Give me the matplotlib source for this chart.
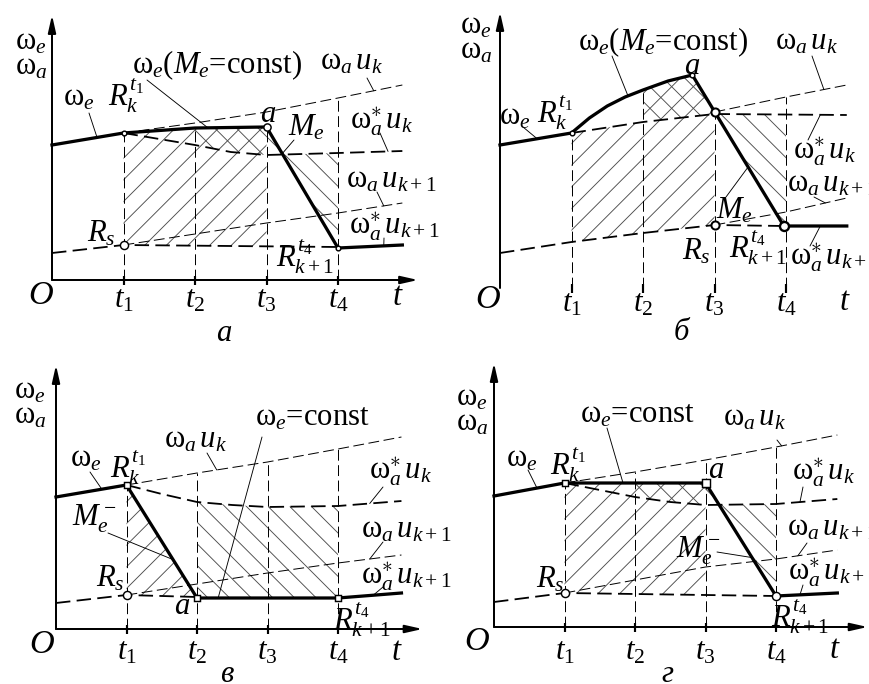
import numpy as np
import matplotlib
matplotlib.use('Agg')
import matplotlib.pyplot as plt

W, H, DPI = 869, 684, 130

# t is in time steps (t1..t4 = 1..4), h in pixels above the t axis
t_ticks = [1, 2, 3, 4]

# panel а
a_we_t, a_we_h = [0, 1, 2, 3, 4, 4.9], [135, 147, 152, 153, 32, 35]
a_wak_t, a_wak_h = [1, 2, 3, 4, 4.9], [147, 157, 168, 182, 195]
a_wsk_t, a_wsk_h = [1, 1.5, 2, 2.5, 3, 4, 4.9], [147, 141, 135, 128, 125, 127, 129]
a_wak1_t, a_wak1_h = [1, 3, 4, 4.9], [35, 57, 67, 77]
a_wsk1_t, a_wsk1_h = [0, 1, 4], [27, 35, 33]
a_vtop = [147, 152, 153, 183]

# panel б
b_we_t = [0, 1, 1.25, 1.5, 1.75, 2, 2.35, 2.69, 3.97, 4.85]
b_we_h = [143, 155, 170, 182, 191, 198, 207, 213, 62, 62]
b_wak_t, b_wak_h = [3, 4, 4.85], [176, 191, 203]
b_wsk_t, b_wsk_h = [1, 2, 3, 4.85], [155, 166, 174, 173]
b_wak1_t, b_wak1_h = [3, 4, 4.85], [63, 76, 90]
b_wsk1_t, b_wsk1_h = [0, 1, 2, 3, 3.97], [35, 46, 55, 63, 62]
b_vtop = [155, 198, 176, 191]

# panel в
c_we_t, c_we_h = [0, 1, 2, 4, 4.9], [132, 144, 31, 31, 36]
c_wak_t, c_wak_h = [1, 2, 3, 4, 4.9], [144, 156, 167, 180, 192]
c_wsk_t, c_wsk_h = [1, 1.5, 2, 2.5, 3, 4, 4.9], [144, 135, 127, 124, 122, 123, 128]
c_wak1_t, c_wak1_h = [1, 3, 4, 4.9], [34, 56, 66, 74]
c_wsk1_t, c_wsk1_h = [0, 1, 2], [26, 34, 32]
c_vtop = [144, 156, 167, 180]

# panel г
d_we_t, d_we_h = [0, 1, 3, 4, 4.87], [131, 144, 144, 31, 34]
d_wak_t, d_wak_h = [1, 2, 3, 4, 4.87], [144, 155, 167, 180, 192]
d_wsk_t, d_wsk_h = [1, 1.5, 2, 2.5, 3, 4, 4.87], [144, 137, 130, 125, 122, 123, 128]
d_wak1_t, d_wak1_h = [1, 3, 4, 4.87], [34, 60, 68, 77]
d_wsk1_t, d_wsk1_h = [0, 1, 4], [25, 34, 31]
d_vtop = [144, 155, 167, 180]

plt.rcParams['font.family'] = 'Liberation Serif'
plt.rcParams['mathtext.fontset'] = 'custom'
plt.rcParams['mathtext.rm'] = 'Liberation Serif'
plt.rcParams['mathtext.it'] = 'Liberation Serif:italic'
plt.rcParams['mathtext.bf'] = 'Liberation Serif:bold'
plt.rcParams['lines.scale_dashes'] = False
plt.rcParams['hatch.linewidth'] = 0.5

FS = 17
fig = plt.figure(figsize=(W / DPI, H / DPI), dpi=DPI)


def make_axes(box, origin, step, top, xend):
    L, T, R, B = box
    ox, oy = origin
    ax = fig.add_axes([L / W, 1 - B / H, (R - L) / W, (B - T) / H])
    ax.set_xlim((L - ox) / step, (R - ox) / step)
    ax.set_ylim(oy - B, oy - T)
    ax.axis('off')
    arrow = dict(arrowstyle='-|>,head_length=0.8,head_width=0.18', lw=1.1,
                 color='k', shrinkA=0, shrinkB=0)
    ax.annotate('', xy=(0, top), xytext=(0, 0), arrowprops=arrow)
    ax.annotate('', xy=(xend, 0), xytext=(0, 0), arrowprops=arrow)
    ax.vlines(t_ticks, -5, 4, color='k', lw=1.2)
    return ax


def solid(ax, t, h):
    ax.plot(t, h, color='k', lw=1.8, zorder=4, solid_joinstyle='miter')


def dthin(ax, t, h):
    ax.plot(t, h, color='k', lw=0.55, dashes=(6, 2.5), zorder=3)


def dthick(ax, t, h):
    ax.plot(t, h, color='k', lw=1.0, dashes=(8, 3.5), zorder=3)


def hatch(ax, t0, t1, lo, hi, pattern):
    tt = np.linspace(t0, t1, 200)
    ax.fill_between(tt, np.interp(tt, *lo), np.interp(tt, *hi), facecolor='none',
                    edgecolor='0.3', lw=0, hatch=pattern, zorder=1)


def verticals(ax, tops):
    ax.vlines(t_ticks, 0, tops, color='k', lw=0.55, linestyles=(0, (6, 2.5)), zorder=2)


def point(ax, t, h, marker='o', ms=3.0, mew=0.8):
    ax.plot([t], [h], marker=marker, ms=ms, mfc='white', mec='k', mew=mew,
            ls='none', zorder=6)


def leader(ax, t, crv, px, py):
    h = np.interp(t, *crv)
    ax.annotate('', xy=(t, h), xytext=(px, H - py), textcoords='figure pixels',
                arrowprops=dict(arrowstyle='-', lw=0.5, color='k', shrinkA=0, shrinkB=0))


def label(px, py, s, size=FS, **kw):
    fig.text(px / W, 1 - py / H, s, fontsize=size, ha='center', va='center', **kw)


def axis_labels(ox, ty, step, ylab_x, ylab_y, o_xy, t_xy):
    label(ylab_x, ylab_y, 'ω$_e$')
    label(ylab_x, ylab_y + 25, 'ω$_a$')
    label(*o_xy, '$O$', size=FS + 2)
    for i, t in enumerate(t_ticks):
        label(ox + t * step, ty, '$t_%d$' % (i + 1))
    label(*t_xy, '$t$', size=FS + 1)


S_WAK = 'ω$_a\\,u_k$'
S_WSK = 'ω$^{\\ast}_a\\,u_k$'
S_WAK1 = 'ω$_a\\,u_{k+1}$'
S_WSK1 = 'ω$^{\\ast}_a\\,u_{k+1}$'

# ---------------- panel а ----------------
ax = make_axes((0, 0, 436, 335), (52, 280), 71.5, 265, 5.12)
we, wak, wsk = (a_we_t, a_we_h), (a_wak_t, a_wak_h), (a_wsk_t, a_wsk_h)
wak1, wsk1 = (a_wak1_t, a_wak1_h), (a_wsk1_t, a_wsk1_h)
hatch(ax, 1, 3, wsk1, we, '//')
hatch(ax, 2, 4, wsk, we, '\\\\')
verticals(ax, a_vtop)
dthin(ax, *wak)
dthin(ax, *wak1)
dthick(ax, *wsk)
dthick(ax, *wsk1)
solid(ax, *we)
point(ax, a_we_t[1], a_we_h[1], ms=2.6)
point(ax, a_we_t[3], a_we_h[3], ms=4)
point(ax, a_wsk1_t[1], a_wsk1_h[1], ms=4.5)
point(ax, a_we_t[4], a_we_h[4], ms=2.6)
leader(ax, 0.63, we, 89, 113)
leader(ax, 2.18, we, 147, 80)
leader(ax, 4.5, wak, 367, 78)
leader(ax, 3.22, we, 294, 140)
leader(ax, 4.7, wsk, 380, 133)
leader(ax, 4.64, wak1, 377, 192)
leader(ax, 4.64, we, 384, 238)
axis_labels(52, 300, 71.5, 31, 42, (41, 296), (398, 297))
label(79, 98, 'ω$_e$')
label(126, 96, '$R_k^{t_1}$')
label(217, 65, 'ω$_e$($M_e$=const)')
label(351, 62, S_WAK)
label(268, 114, '$a$')
label(307, 128, '$M_e$')
label(381, 122, S_WSK)
label(391, 180, S_WAK1)
label(394, 227, S_WSK1)
label(101, 234, '$R_s$')
label(305, 257, '$R_{k+1}^{t_4}$')
label(224, 333, 'а', style='italic')

# ---------------- panel б ----------------
ax = make_axes((436, 0, 869, 335), (500, 288), 71.5, 276, 5.2)
we, wak, wsk = (b_we_t, b_we_h), (b_wak_t, b_wak_h), (b_wsk_t, b_wsk_h)
wak1, wsk1 = (b_wak1_t, b_wak1_h), (b_wsk1_t, b_wsk1_h)
hatch(ax, 1, 2, wsk1, wsk, '//')
hatch(ax, 2, 3, wsk1, we, '//')
hatch(ax, 2, 4, wsk, we, '\\\\')
verticals(ax, b_vtop)
dthin(ax, *wak)
dthin(ax, *wak1)
dthick(ax, *wsk)
dthick(ax, *wsk1)
solid(ax, *we)
point(ax, b_we_t[1], b_we_h[1], ms=2.6)
point(ax, b_we_t[7], b_we_h[7], ms=2.6)
point(ax, b_wak_t[0], b_wak_h[0], ms=4.5, mew=1.1)
point(ax, b_wak1_t[0], b_wak1_h[0], ms=4.5, mew=1.1)
point(ax, b_we_t[8], b_we_h[8], ms=5, mew=1.3)
leader(ax, 0.52, we, 523, 127)
leader(ax, 1.79, we, 612, 56)
leader(ax, 4.53, wak, 812, 56)
leader(ax, 4.48, wsk, 808, 140)
leader(ax, 4.55, wak1, 814, 197)
leader(ax, 3.47, we, 726, 197)
leader(ax, 4.48, we, 810, 246)
axis_labels(500, 304, 71.5, 476, 26, (488, 300), (845, 302))
label(515, 117, 'ω$_e$')
label(555, 113, '$R_k^{t_1}$')
label(663, 42, 'ω$_e$($M_e$=const)')
label(806, 42, S_WAK)
label(692, 67, '$a$')
label(824, 152, S_WSK)
label(832, 184, S_WAK1)
label(735, 211, '$M_e$')
label(696, 252, '$R_s$')
label(758, 248, '$R_{k+1}^{t_4}$')
label(835, 258, S_WSK1)
label(681, 332, 'б', style='italic')

# ---------------- panel в ----------------
ax = make_axes((0, 340, 436, 684), (56, 629), 70.5, 264, 5.2)
we, wak, wsk = (c_we_t, c_we_h), (c_wak_t, c_wak_h), (c_wsk_t, c_wsk_h)
wak1, wsk1 = (c_wak1_t, c_wak1_h), (c_wsk1_t, c_wsk1_h)
hatch(ax, 1, 2, wsk1, we, '//')
hatch(ax, 2, 4, we, wsk, '\\\\')
verticals(ax, c_vtop)
dthin(ax, *wak)
dthin(ax, *wak1)
dthick(ax, *wsk)
dthick(ax, *wsk1)
solid(ax, *we)
point(ax, c_we_t[1], c_we_h[1], marker='s', ms=3.2)
point(ax, c_wsk1_t[1], c_wsk1_h[1], ms=4.5)
point(ax, c_we_t[2], c_we_h[2], marker='s', ms=3.2)
point(ax, c_we_t[3], c_we_h[3], marker='s', ms=3.2)
leader(ax, 0.65, we, 90, 472)
leader(ax, 2.28, wak, 207, 453)
leader(ax, 2.3, we, 262, 437)
leader(ax, 4.45, wsk, 383, 487)
leader(ax, 1.66, we, 108, 533)
leader(ax, 4.45, wak1, 383, 542)
leader(ax, 4.5, we, 383, 587)
axis_labels(56, 652, 70.5, 30, 391, (42, 645), (397, 652))
label(86, 459, 'ω$_e$')
label(128, 468, '$R_k^{t_1}$')
label(195, 440, S_WAK)
label(312, 418, 'ω$_e$=const')
label(400, 472, S_WSK)
label(94, 519, '$M_e^-$')
label(406, 530, S_WAK1)
label(110, 579, '$R_s$')
label(406, 577, S_WSK1)
label(182, 607, '$a$')
label(362, 620, '$R_{k+1}^{t_4}$')
label(227, 674, 'в', style='italic')

# ---------------- panel г ----------------
ax = make_axes((436, 340, 869, 684), (494, 627), 70.5, 264, 5.3)
we, wak, wsk = (d_we_t, d_we_h), (d_wak_t, d_wak_h), (d_wsk_t, d_wsk_h)
wak1, wsk1 = (d_wak1_t, d_wak1_h), (d_wsk1_t, d_wsk1_h)
hatch(ax, 1, 3, wsk1, we, '//')
hatch(ax, 2, 4, wsk, we, '\\\\')
verticals(ax, d_vtop)
dthin(ax, *wak)
dthin(ax, *wak1)
dthick(ax, *wsk)
dthick(ax, *wsk1)
solid(ax, *we)
point(ax, d_we_t[1], d_we_h[1], marker='s', ms=3.2)
point(ax, d_we_t[2], d_we_h[2], marker='s', ms=4)
point(ax, d_wsk1_t[1], d_wsk1_h[1], ms=4.5)
point(ax, d_we_t[3], d_we_h[3], ms=4.5)
leader(ax, 0.61, we, 528, 470)
leader(ax, 1.83, we, 607, 428)
leader(ax, 4.08, wak, 777, 440)
leader(ax, 4.34, wsk, 803, 487)
leader(ax, 4.31, wak1, 807, 543)
leader(ax, 3.66, we, 717, 552)
leader(ax, 4.34, we, 803, 585)
axis_labels(494, 652, 70.5, 472, 398, (477, 642), (835, 650))
label(522, 459, 'ω$_e$')
label(568, 465, '$R_k^{t_1}$')
label(637, 415, 'ω$_e$=const')
label(754, 418, S_WAK)
label(716, 471, '$a$')
label(823, 473, S_WSK)
label(832, 528, S_WAK1)
label(698, 551, '$M_e^-$')
label(550, 580, '$R_s$')
label(833, 573, S_WSK1)
label(800, 617, '$R_{k+1}^{t_4}$')
label(667, 674, 'г', style='italic')

fig.savefig('out.png', dpi=DPI)
